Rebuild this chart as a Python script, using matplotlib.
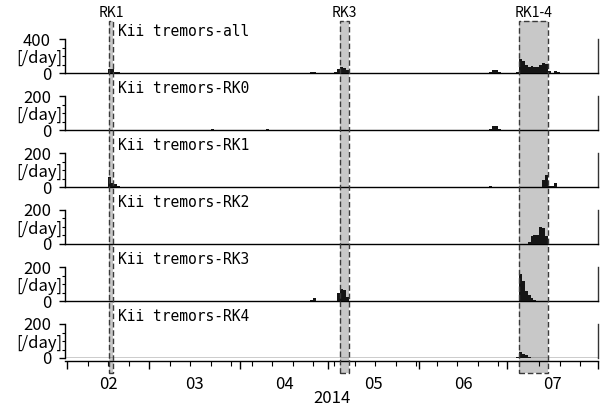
import numpy as np
import pandas as pd
import matplotlib
matplotlib.use('Agg')
import matplotlib.pyplot as plt
import matplotlib.dates as mdates
import matplotlib.ticker as mticker
from matplotlib.patches import Rectangle
from matplotlib.transforms import blended_transform_factory

plt.rcParams['font.family'] = ['Noto Sans CJK JP', 'DejaVu Sans']

# ---- data (daily tremor counts) ----
panel_names = ['Kii tremors-all', 'Kii tremors-RK0', 'Kii tremors-RK1',
               'Kii tremors-RK2', 'Kii tremors-RK3', 'Kii tremors-RK4']
panel_ymax = [400, 200, 200, 200, 200, 200]

all_days = ['2014-02-15', '2014-02-16', '2014-02-17', '2014-02-18', '2014-03-22',
            '2014-04-25', '2014-04-26', '2014-05-03', '2014-05-04', '2014-05-05',
            '2014-05-06', '2014-05-07', '2014-06-25', '2014-06-26', '2014-06-27',
            '2014-06-28', '2014-07-04', '2014-07-05', '2014-07-06', '2014-07-07',
            '2014-07-08', '2014-07-09', '2014-07-10', '2014-07-11', '2014-07-12',
            '2014-07-13', '2014-07-14', '2014-07-15', '2014-07-17', '2014-07-18']
all_counts = [45, 50, 15, 8, 4,
              12, 15, 15, 45, 65,
              60, 35, 15, 30, 30,
              12, 10, 170, 145, 90,
              75, 80, 70, 75, 100,
              120, 110, 20, 25, 15]

rk0_days = ['2014-03-22', '2014-04-10', '2014-06-25', '2014-06-26', '2014-06-27',
            '2014-06-28', '2014-07-10']
rk0_counts = [5, 3, 8, 22, 22, 8, 2]

rk1_days = ['2014-02-15', '2014-02-16', '2014-02-17', '2014-02-18', '2014-06-25',
            '2014-07-13', '2014-07-14', '2014-07-15', '2014-07-16', '2014-07-17']
rk1_counts = [60, 25, 20, 8, 3, 40, 70, 4, 5, 25]

rk2_days = ['2014-07-08', '2014-07-09', '2014-07-10', '2014-07-11', '2014-07-12',
            '2014-07-13', '2014-07-14']
rk2_counts = [10, 45, 50, 55, 100, 95, 45]

rk3_days = ['2014-04-25', '2014-04-26', '2014-05-04', '2014-05-05', '2014-05-06',
            '2014-05-07', '2014-05-18', '2014-07-05', '2014-07-06', '2014-07-07',
            '2014-07-08', '2014-07-09', '2014-07-10']
rk3_counts = [8, 15, 45, 70, 65, 25, 2, 160, 120, 60, 35, 15, 5]

rk4_days = ['2014-07-04', '2014-07-05', '2014-07-06', '2014-07-07', '2014-07-08']
rk4_counts = [5, 35, 25, 20, 5]

series_days = [all_days, rk0_days, rk1_days, rk2_days, rk3_days, rk4_days]
series_counts = [all_counts, rk0_counts, rk1_counts, rk2_counts, rk3_counts, rk4_counts]

# highlighted episodes
episode_names = ['RK1', 'RK3', 'RK1-4']
episode_start = ['2014-02-15 10:00', '2014-05-05', '2014-07-05']
episode_end = ['2014-02-16 19:00', '2014-05-08', '2014-07-15']

month_labels = ['02', '03', '04', '05', '06', '07']

# ---- figure ----
fig = plt.figure(figsize=(6.08, 4.12), dpi=100)
W, H = 608.0, 412.0
left, width = 65 / W, 533 / W
x0 = mdates.date2num(pd.Timestamp('2014-02-01')) - 0.68
x1 = mdates.date2num(pd.Timestamp('2014-08-01'))

axes = []
for i, name in enumerate(panel_names):
    bottom_px = 73 + 57 * i
    ax = fig.add_axes([left, 1 - bottom_px / H, width, 34 / H],
                      sharex=axes[0] if axes else None)
    ax.patch.set_visible(False)
    d = mdates.date2num(pd.to_datetime(series_days[i]))
    ax.bar(d, series_counts[i], width=1.0, align='edge', color='#151515',
           edgecolor='none', zorder=3)
    ymax = panel_ymax[i]
    ax.set_ylim(0, ymax)
    ax.set_yticks([0, ymax])
    ax.yaxis.set_minor_locator(mticker.MultipleLocator(ymax / 4))
    ax.tick_params(axis='y', which='major', direction='out', length=4, width=1,
                   pad=6, labelsize=12)
    ax.tick_params(axis='y', which='minor', direction='out', length=2, width=0.8)
    ax.spines['top'].set_visible(False)
    ax.spines['right'].set_color('#333333')
    for s in ['left', 'bottom', 'right']:
        ax.spines[s].set_linewidth(1.0)
    ax.text(-3 / 533, 0.42, '[/day]', transform=ax.transAxes, ha='right',
            va='center', fontsize=12)
    ax.text((118 - 65) / 533, 1.08, name, transform=ax.transAxes, ha='left',
            va='baseline', fontsize=10.5, family=['DejaVu Sans Mono'])
    ax.tick_params(axis='x', which='both', bottom=False, labelbottom=False)
    axes.append(ax)

ax = axes[-1]
ax.set_xlim(x0, x1)
ax.axhline(0, color='k', lw=1.0, zorder=4)
ax.spines['bottom'].set_position(('outward', 1.8))
ax.xaxis.set_major_locator(mdates.MonthLocator())
ax.xaxis.set_minor_locator(mdates.WeekdayLocator(byweekday=mdates.SA))
ax.xaxis.set_major_formatter(mticker.NullFormatter())
ax.tick_params(axis='x', which='major', bottom=True, direction='out',
               length=6, width=1)
ax.tick_params(axis='x', which='minor', bottom=True, direction='out',
               length=3.5, width=0.8)

# month labels centred in each month
month_starts = pd.date_range('2014-02-01', '2014-08-01', freq='MS')
mids = [(mdates.date2num(a) + mdates.date2num(b)) / 2
        for a, b in zip(month_starts[:-1], month_starts[1:])]
sec = ax.secondary_xaxis('bottom')
sec.set_xticks(mids, labels=month_labels)
sec.tick_params(axis='x', length=0, pad=13, labelsize=12)
sec.spines['bottom'].set_visible(False)
sec.set_xlabel('2014', fontsize=12, labelpad=-2)

# shaded episodes across all panels
tr = blended_transform_factory(ax.transData, fig.transFigure)
y_lo, y_hi = 1 - 372.5 / H, 1 - 20.5 / H
for name, s, e in zip(episode_names, episode_start, episode_end):
    xs = mdates.date2num(pd.Timestamp(s))
    xe = mdates.date2num(pd.Timestamp(e))
    fig.add_artist(Rectangle((xs, y_lo), xe - xs, y_hi - y_lo, transform=tr,
                             facecolor='#c8c8c8', edgecolor='none', zorder=-2))
    fig.add_artist(Rectangle((xs, y_lo), xe - xs, y_hi - y_lo, transform=tr,
                             facecolor='none', edgecolor='#3a3a3a', lw=1.0,
                             ls=(0, (4, 2)), zorder=5))
    fig.text((xs + xe) / 2, 1 - 13 / H, name, transform=tr, fontsize=10,
             ha='center', va='center')

fig.savefig('out.png', dpi=100)
